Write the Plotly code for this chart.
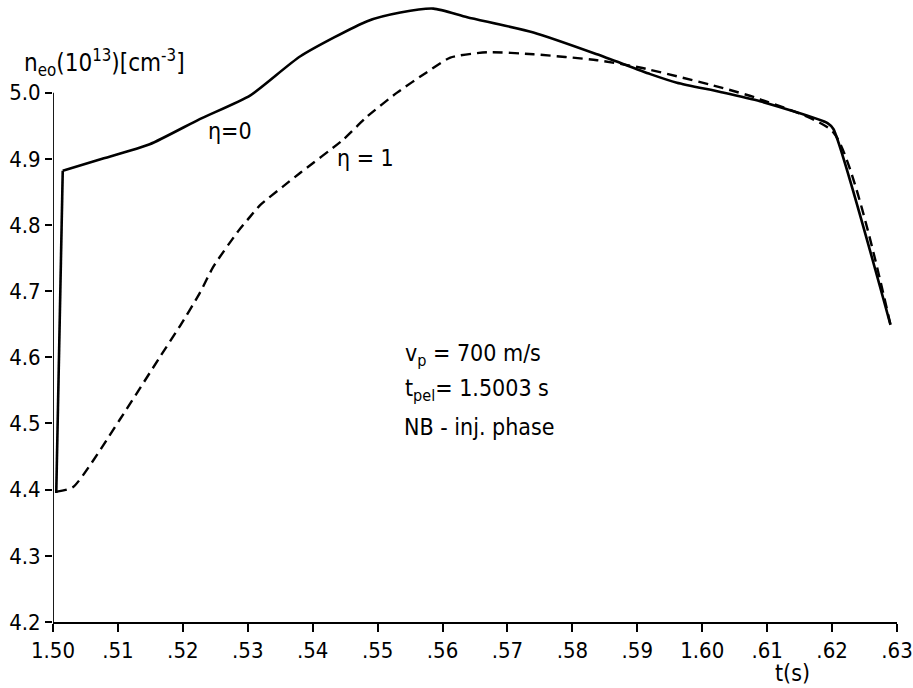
import plotly.graph_objects as go

# eta = 0 (solid)
t_eta0 = [1.5005, 1.5015, 1.5072, 1.5149, 1.5226, 1.5304, 1.5381, 1.5484, 1.5535,
          1.5586, 1.5638, 1.5740, 1.5838, 1.5920, 1.5961, 1.6028, 1.6089, 1.6193,
          1.6202, 1.6290]
n_eta0 = [4.395, 4.882, 4.899, 4.922, 4.960, 4.996, 5.055, 5.108, 5.121,
          5.127, 5.114, 5.091, 5.058, 5.028, 5.015, 5.001, 4.987, 4.954,
          4.945, 4.649]

# eta = 1 (dashed)
t_eta1 = [1.5006, 1.5031, 1.5103, 1.5165, 1.5196, 1.5226, 1.5247, 1.5284, 1.5304,
          1.5319, 1.5354, 1.5381, 1.5447, 1.5484, 1.5530, 1.5576, 1.5612, 1.5669,
          1.5740, 1.5838, 1.5904, 1.6028, 1.6089, 1.6202, 1.6290]
n_eta1 = [4.397, 4.404, 4.506, 4.601, 4.648, 4.697, 4.737, 4.789, 4.813,
          4.830, 4.858, 4.879, 4.929, 4.964, 5.000, 5.031, 5.053, 5.061,
          5.058, 5.049, 5.038, 5.008, 4.990, 4.940, 4.649]

x_ticks = [1.50, 1.51, 1.52, 1.53, 1.54, 1.55, 1.56, 1.57, 1.58, 1.59, 1.60, 1.61, 1.62, 1.63]
x_labels = ["1.50", ".51", ".52", ".53", ".54", ".55", ".56", ".57", ".58", ".59",
            "1.60", ".61", ".62", ".63"]
y_ticks = [4.2, 4.3, 4.4, 4.5, 4.6, 4.7, 4.8, 4.9, 5.0]
y_labels = ["4.2", "4.3", "4.4", "4.5", "4.6", "4.7", "4.8", "4.9", "5.0"]

FONT = "DejaVu Sans Condensed, Liberation Sans Narrow, DejaVu Sans, sans-serif"

fig = go.Figure()
# initial jump of eta=0 (straight), then smooth remainder
fig.add_trace(go.Scatter(x=t_eta0[:2], y=n_eta0[:2], mode="lines",
                         line=dict(color="black", width=2.6), showlegend=False))
fig.add_trace(go.Scatter(x=t_eta0[1:], y=n_eta0[1:], mode="lines",
                         line=dict(color="black", width=2.6, shape="spline", smoothing=0.6),
                         showlegend=False))
fig.add_trace(go.Scatter(x=t_eta1, y=n_eta1, mode="lines",
                         line=dict(color="black", width=2.4, dash="10px,6px",
                                   shape="spline", smoothing=0.6),
                         showlegend=False))

# y-axis line only from 4.2 to 5.0
fig.add_shape(type="line", xref="x", yref="y", x0=x_ticks[0], x1=x_ticks[0],
              y0=y_ticks[0], y1=y_ticks[-1], line=dict(color="black", width=1.8))

fig.update_layout(
    width=913, height=688,
    margin=dict(l=53, r=16, t=0, b=66),
    paper_bgcolor="white", plot_bgcolor="white",
    font=dict(family=FONT, size=22, color="black"),
    xaxis=dict(range=[1.50, 1.63], tickvals=x_ticks, ticktext=x_labels,
               showgrid=False, zeroline=False, showline=True, linecolor="black",
               linewidth=1.8, ticks="outside", ticklen=8, tickwidth=1.8,
               tickcolor="black", tickfont=dict(size=22)),
    yaxis=dict(range=[4.2, 5.14], tickvals=y_ticks, ticktext=y_labels,
               showgrid=False, zeroline=False, showline=False,
               ticks="outside", ticklen=7, tickwidth=1.8, tickcolor="black",
               tickfont=dict(size=22)),
)

def px2paper_x(px):
    return (px - 53) / 844.0

def px2paper_y(py):
    return (622 - py) / 622.0

annots = [
    dict(text="n<sub>eo</sub>(10<sup>13</sup>)[cm<sup>-3</sup>]", x=px2paper_x(22), y=px2paper_y(62),
         xanchor="left", yanchor="middle", size=24),
    dict(text="t(s)", x=px2paper_x(792), y=px2paper_y(673), xanchor="center", yanchor="middle", size=23),
    dict(text="η=0", x=px2paper_x(230), y=px2paper_y(131), xanchor="center", yanchor="middle", size=23),
    dict(text="η = 1", x=px2paper_x(365), y=px2paper_y(158), xanchor="center", yanchor="middle", size=23),
    dict(text="v<sub>p</sub> = 700 m/s", x=px2paper_x(473), y=px2paper_y(355), xanchor="center", yanchor="middle", size=23),
    dict(text="t<sub>pel</sub>= 1.5003 s", x=px2paper_x(477), y=px2paper_y(390), xanchor="center", yanchor="middle", size=23),
    dict(text="NB - inj. phase", x=px2paper_x(479), y=px2paper_y(427), xanchor="center", yanchor="middle", size=23),
]
for a in annots:
    sz = a.pop("size")
    fig.add_annotation(xref="paper", yref="paper", showarrow=False,
                       font=dict(family=FONT, size=sz, color="black"), **a)

fig.write_html("out.html")
